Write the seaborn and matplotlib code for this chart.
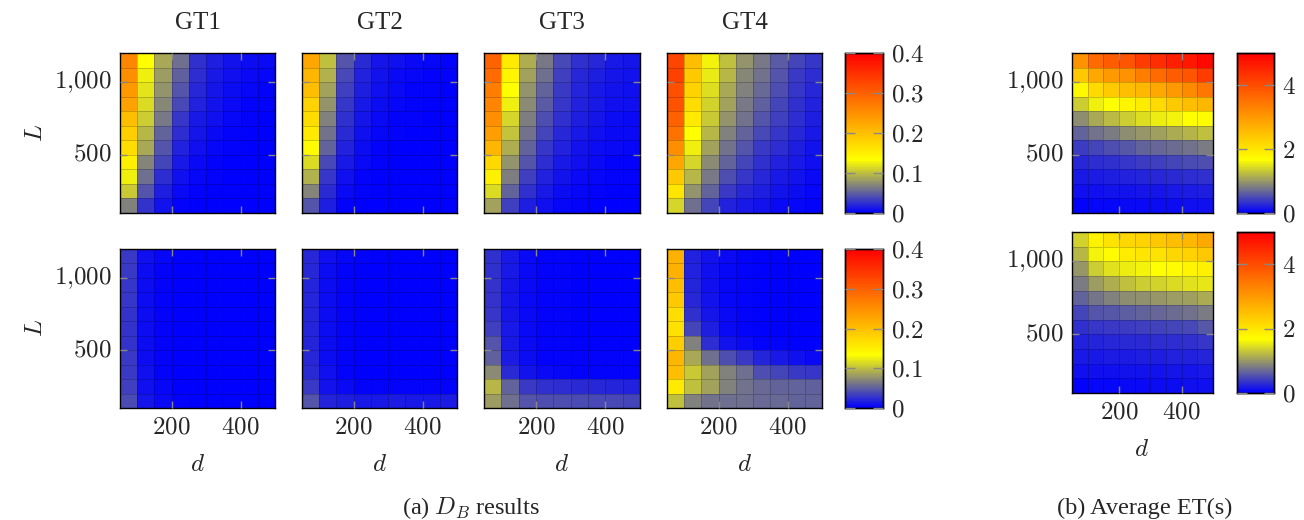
import numpy as np
import pandas as pd
import matplotlib
matplotlib.use('Agg')
import matplotlib.pyplot as plt
import seaborn as sns
from matplotlib.colors import LinearSegmentedColormap

sns.set_style('white')
plt.rcParams['font.family'] = ['Liberation Serif', 'DejaVu Serif']
plt.rcParams['mathtext.fontset'] = 'cm'
plt.rcParams['axes.axisbelow'] = False

# griglia: d (colonne, bordo sinistro della cella), L (righe dall'alto, bordo inferiore)
d_vals = [50, 100, 150, 200, 250, 300, 350, 400, 450]
L_vals = [1100, 1000, 900, 800, 700, 600, 500, 400, 300, 200, 100]
gt_names = ['GT1', 'GT2', 'GT3', 'GT4']

# D_B, riga superiore
db_top_gt1 = [
    [0.260, 0.133, 0.089, 0.058, 0.026, 0.016, 0.010, 0.007, 0.006],
    [0.250, 0.125, 0.082, 0.050, 0.024, 0.014, 0.009, 0.005, 0.004],
    [0.240, 0.120, 0.077, 0.044, 0.021, 0.012, 0.007, 0.004, 0.003],
    [0.230, 0.115, 0.071, 0.039, 0.018, 0.010, 0.006, 0.003, 0.002],
    [0.200, 0.107, 0.063, 0.029, 0.013, 0.008, 0.004, 0.002, 0.001],
    [0.185, 0.096, 0.052, 0.024, 0.011, 0.006, 0.003, 0.001, 0.000],
    [0.170, 0.088, 0.044, 0.018, 0.009, 0.004, 0.002, 0.000, 0.000],
    [0.150, 0.070, 0.037, 0.013, 0.006, 0.003, 0.001, 0.000, 0.000],
    [0.125, 0.058, 0.024, 0.008, 0.004, 0.002, 0.000, 0.000, 0.000],
    [0.105, 0.044, 0.016, 0.005, 0.003, 0.001, 0.000, 0.000, 0.000],
    [0.068, 0.027, 0.010, 0.003, 0.001, 0.000, 0.000, 0.000, 0.000],
]
db_top_gt2 = [
    [0.225, 0.100, 0.044, 0.023, 0.012, 0.008, 0.006, 0.004, 0.003],
    [0.210, 0.093, 0.039, 0.018, 0.010, 0.006, 0.004, 0.003, 0.002],
    [0.200, 0.085, 0.034, 0.016, 0.008, 0.005, 0.003, 0.002, 0.001],
    [0.180, 0.077, 0.029, 0.013, 0.007, 0.004, 0.002, 0.001, 0.001],
    [0.170, 0.068, 0.026, 0.011, 0.005, 0.003, 0.002, 0.001, 0.000],
    [0.155, 0.060, 0.023, 0.009, 0.004, 0.002, 0.001, 0.000, 0.000],
    [0.138, 0.052, 0.018, 0.007, 0.003, 0.001, 0.000, 0.000, 0.000],
    [0.115, 0.039, 0.013, 0.005, 0.002, 0.001, 0.000, 0.000, 0.000],
    [0.093, 0.029, 0.008, 0.003, 0.001, 0.000, 0.000, 0.000, 0.000],
    [0.070, 0.023, 0.005, 0.002, 0.000, 0.000, 0.000, 0.000, 0.000],
    [0.044, 0.016, 0.003, 0.001, 0.000, 0.000, 0.000, 0.000, 0.000],
]
db_top_gt3 = [
    [0.296, 0.155, 0.092, 0.063, 0.039, 0.026, 0.021, 0.013, 0.012],
    [0.288, 0.145, 0.085, 0.058, 0.034, 0.021, 0.016, 0.011, 0.010],
    [0.270, 0.133, 0.078, 0.052, 0.031, 0.019, 0.014, 0.010, 0.009],
    [0.262, 0.125, 0.073, 0.047, 0.029, 0.018, 0.013, 0.009, 0.008],
    [0.250, 0.112, 0.066, 0.042, 0.026, 0.016, 0.011, 0.007, 0.006],
    [0.235, 0.102, 0.060, 0.037, 0.021, 0.013, 0.009, 0.006, 0.005],
    [0.210, 0.092, 0.052, 0.029, 0.018, 0.010, 0.007, 0.005, 0.004],
    [0.175, 0.078, 0.044, 0.024, 0.013, 0.008, 0.005, 0.003, 0.003],
    [0.150, 0.066, 0.034, 0.018, 0.010, 0.006, 0.004, 0.002, 0.002],
    [0.115, 0.052, 0.026, 0.013, 0.007, 0.004, 0.002, 0.001, 0.001],
    [0.085, 0.034, 0.016, 0.008, 0.004, 0.002, 0.001, 0.001, 0.000],
]
db_top_gt4 = [
    [0.327, 0.200, 0.128, 0.100, 0.077, 0.063, 0.047, 0.037, 0.029],
    [0.332, 0.190, 0.122, 0.096, 0.071, 0.060, 0.044, 0.031, 0.024],
    [0.317, 0.180, 0.117, 0.089, 0.068, 0.055, 0.042, 0.029, 0.021],
    [0.313, 0.170, 0.110, 0.085, 0.063, 0.050, 0.037, 0.026, 0.018],
    [0.300, 0.155, 0.105, 0.077, 0.060, 0.044, 0.034, 0.024, 0.016],
    [0.280, 0.133, 0.096, 0.068, 0.052, 0.039, 0.029, 0.021, 0.013],
    [0.250, 0.125, 0.085, 0.060, 0.044, 0.031, 0.024, 0.016, 0.010],
    [0.225, 0.112, 0.073, 0.052, 0.037, 0.026, 0.018, 0.013, 0.008],
    [0.190, 0.096, 0.063, 0.042, 0.029, 0.021, 0.013, 0.010, 0.006],
    [0.160, 0.078, 0.052, 0.031, 0.021, 0.016, 0.010, 0.007, 0.004],
    [0.112, 0.058, 0.037, 0.018, 0.013, 0.010, 0.005, 0.004, 0.002],
]

# D_B, riga inferiore
db_bot_gt1 = [
    [0.030, 0.008, 0.004, 0.001, 0.001, 0.000, 0.000, 0.000, 0.000],
    [0.030, 0.007, 0.003, 0.001, 0.001, 0.000, 0.000, 0.000, 0.000],
    [0.029, 0.007, 0.003, 0.001, 0.000, 0.000, 0.000, 0.000, 0.000],
    [0.029, 0.007, 0.003, 0.001, 0.000, 0.000, 0.000, 0.000, 0.000],
    [0.028, 0.007, 0.003, 0.001, 0.000, 0.000, 0.000, 0.000, 0.000],
    [0.028, 0.007, 0.003, 0.001, 0.000, 0.000, 0.000, 0.000, 0.000],
    [0.028, 0.007, 0.003, 0.001, 0.000, 0.000, 0.000, 0.000, 0.000],
    [0.030, 0.007, 0.003, 0.001, 0.000, 0.000, 0.000, 0.000, 0.000],
    [0.031, 0.008, 0.003, 0.001, 0.000, 0.000, 0.000, 0.000, 0.000],
    [0.033, 0.009, 0.004, 0.001, 0.000, 0.000, 0.000, 0.000, 0.000],
    [0.040, 0.012, 0.005, 0.002, 0.001, 0.001, 0.001, 0.000, 0.000],
]
db_bot_gt2 = [
    [0.021, 0.008, 0.004, 0.002, 0.001, 0.001, 0.000, 0.000, 0.000],
    [0.021, 0.007, 0.003, 0.001, 0.001, 0.000, 0.000, 0.000, 0.000],
    [0.020, 0.007, 0.003, 0.001, 0.001, 0.000, 0.000, 0.000, 0.000],
    [0.020, 0.007, 0.003, 0.001, 0.001, 0.000, 0.000, 0.000, 0.000],
    [0.020, 0.007, 0.003, 0.001, 0.001, 0.000, 0.000, 0.000, 0.000],
    [0.020, 0.007, 0.003, 0.001, 0.001, 0.000, 0.000, 0.000, 0.000],
    [0.020, 0.007, 0.003, 0.001, 0.001, 0.000, 0.000, 0.000, 0.000],
    [0.021, 0.007, 0.003, 0.001, 0.001, 0.000, 0.000, 0.000, 0.000],
    [0.023, 0.008, 0.003, 0.001, 0.001, 0.000, 0.000, 0.000, 0.000],
    [0.030, 0.010, 0.005, 0.002, 0.002, 0.002, 0.002, 0.002, 0.002],
    [0.044, 0.020, 0.016, 0.014, 0.014, 0.015, 0.014, 0.014, 0.015],
]
db_bot_gt3 = [
    [0.026, 0.013, 0.005, 0.002, 0.002, 0.001, 0.001, 0.001, 0.001],
    [0.026, 0.013, 0.005, 0.002, 0.002, 0.001, 0.001, 0.001, 0.001],
    [0.027, 0.012, 0.005, 0.002, 0.002, 0.001, 0.001, 0.001, 0.001],
    [0.028, 0.012, 0.005, 0.002, 0.002, 0.001, 0.001, 0.001, 0.001],
    [0.029, 0.012, 0.005, 0.002, 0.002, 0.001, 0.001, 0.001, 0.001],
    [0.034, 0.013, 0.005, 0.002, 0.002, 0.001, 0.001, 0.001, 0.001],
    [0.044, 0.013, 0.006, 0.002, 0.002, 0.001, 0.001, 0.001, 0.001],
    [0.050, 0.015, 0.007, 0.003, 0.002, 0.002, 0.002, 0.002, 0.002],
    [0.073, 0.023, 0.010, 0.005, 0.004, 0.003, 0.003, 0.003, 0.002],
    [0.096, 0.052, 0.031, 0.026, 0.024, 0.023, 0.021, 0.019, 0.018],
    [0.082, 0.058, 0.044, 0.042, 0.042, 0.040, 0.039, 0.038, 0.037],
]
db_bot_gt4 = [
    [0.215, 0.018, 0.010, 0.005, 0.002, 0.001, 0.001, 0.001, 0.001],
    [0.215, 0.018, 0.009, 0.004, 0.002, 0.001, 0.001, 0.001, 0.000],
    [0.200, 0.019, 0.009, 0.004, 0.002, 0.001, 0.001, 0.000, 0.000],
    [0.190, 0.021, 0.010, 0.004, 0.002, 0.001, 0.000, 0.000, 0.000],
    [0.170, 0.026, 0.012, 0.005, 0.002, 0.001, 0.000, 0.000, 0.000],
    [0.165, 0.037, 0.016, 0.006, 0.003, 0.001, 0.001, 0.000, 0.000],
    [0.185, 0.068, 0.024, 0.010, 0.005, 0.003, 0.002, 0.001, 0.001],
    [0.210, 0.089, 0.058, 0.042, 0.031, 0.020, 0.013, 0.008, 0.005],
    [0.200, 0.105, 0.085, 0.068, 0.058, 0.042, 0.037, 0.031, 0.029],
    [0.155, 0.100, 0.085, 0.068, 0.060, 0.055, 0.052, 0.052, 0.050],
    [0.100, 0.068, 0.060, 0.058, 0.058, 0.055, 0.055, 0.052, 0.052],
]

# tempo medio ET(s)
et_top = [
    [3.10, 3.60, 3.80, 3.90, 4.20, 4.40, 4.60, 4.70, 4.90],
    [2.40, 2.80, 3.00, 3.10, 3.35, 3.60, 3.80, 3.90, 4.20],
    [1.75, 2.15, 2.35, 2.50, 2.60, 2.80, 3.00, 3.20, 3.45],
    [1.33, 1.57, 1.67, 1.80, 1.93, 2.15, 2.35, 2.50, 2.60],
    [0.92, 1.10, 1.23, 1.33, 1.45, 1.55, 1.60, 1.67, 1.72],
    [0.65, 0.75, 0.82, 0.92, 0.98, 1.05, 1.12, 1.18, 1.25],
    [0.40, 0.45, 0.52, 0.58, 0.65, 0.68, 0.72, 0.75, 0.82],
    [0.26, 0.30, 0.33, 0.36, 0.40, 0.42, 0.46, 0.49, 0.52],
    [0.16, 0.18, 0.20, 0.22, 0.24, 0.26, 0.28, 0.30, 0.33],
    [0.10, 0.11, 0.12, 0.13, 0.14, 0.15, 0.16, 0.18, 0.20],
    [0.03, 0.04, 0.05, 0.06, 0.07, 0.08, 0.09, 0.10, 0.11],
]
et_bot = [
    [1.37, 1.85, 2.05, 2.20, 2.25, 2.40, 2.50, 2.60, 2.80],
    [1.20, 1.60, 1.72, 1.93, 2.00, 2.05, 2.20, 2.25, 2.40],
    [0.98, 1.33, 1.48, 1.55, 1.60, 1.67, 1.72, 1.80, 1.85],
    [0.82, 1.02, 1.15, 1.25, 1.33, 1.37, 1.43, 1.48, 1.52],
    [0.65, 0.78, 0.85, 0.92, 0.95, 0.98, 1.02, 1.05, 1.12],
    [0.45, 0.55, 0.58, 0.62, 0.65, 0.68, 0.72, 0.75, 0.82],
    [0.33, 0.36, 0.38, 0.40, 0.42, 0.44, 0.46, 0.48, 0.58],
    [0.23, 0.25, 0.26, 0.28, 0.29, 0.30, 0.31, 0.33, 0.36],
    [0.16, 0.17, 0.18, 0.19, 0.20, 0.21, 0.22, 0.23, 0.25],
    [0.10, 0.10, 0.11, 0.12, 0.13, 0.13, 0.14, 0.15, 0.16],
    [0.03, 0.04, 0.05, 0.06, 0.07, 0.08, 0.09, 0.10, 0.11],
]

db_ticks = [0, 0.1, 0.2, 0.3, 0.4]
et_ticks = [0, 2, 4]

# colormap "hot" di pgfplots
cmap = LinearSegmentedColormap.from_list(
    'pgfhot', [(0, 'blue'), (1/3, 'yellow'), (2/3, (1, 0.5, 0)), (1, 'red')])

W, H = 1304, 520
fig = plt.figure(figsize=(W / 100, H / 100), dpi=100)


def px_axes(x0, y0, x1, y1):
    return fig.add_axes([x0 / W, 1 - y1 / H, (x1 - x0) / W, (y1 - y0) / H])


def tex_num(v):
    s = f'{v:,}' if isinstance(v, int) else f'{v:g}'
    return '$' + s.replace(',', '{,}') + '$'


def draw_map(ax, values, vmax, cax=None, show_y=False, show_x=False):
    df = pd.DataFrame(values, index=L_vals, columns=d_vals)
    sns.heatmap(df, ax=ax, cmap=cmap, vmin=0, vmax=vmax, cbar=cax is not None,
                cbar_ax=cax, linewidths=0.5, linecolor=(0, 0, 0, 0.2))
    step_d = d_vals[1] - d_vals[0]
    xt = [(t - d_vals[0]) / step_d for t in (200, 400)]
    yt = [(L_vals[0] + 100 - t) / 100 for t in (1000, 500)]
    ax.set_axisbelow(False)
    ax.set_xticks(xt)
    ax.set_yticks(yt)
    ax.set_xticklabels([tex_num(200), tex_num(400)] if show_x else [], fontsize=18, rotation=0)
    ax.set_yticklabels([tex_num(1000), tex_num(500)] if show_y else [], fontsize=18, rotation=0)
    ax.set_xlabel('')
    ax.set_ylabel('')
    ax.tick_params(direction='in', length=5, width=1, color='#888888',
                   top=True, right=True, bottom=True, left=True, pad=6)
    for sp in ax.spines.values():
        sp.set_visible(True)
        sp.set_color('black')
        sp.set_linewidth(1)


def style_cbar(cax, ticks):
    cax.set_axisbelow(False)
    cax.set_yticks(ticks)
    cax.set_yticklabels([tex_num(t) for t in ticks], fontsize=18)
    cax.tick_params(direction='in', length=7, width=1, color='#888888',
                    left=True, right=True, pad=6)
    for sp in cax.spines.values():
        sp.set_visible(True)
        sp.set_color('black')
        sp.set_linewidth(1)


cols_x = [(120, 275), (302, 457), (484, 640), (667, 822)]
rows_y = [(53, 213), (249, 408)]
top_maps = [db_top_gt1, db_top_gt2, db_top_gt3, db_top_gt4]
bot_maps = [db_bot_gt1, db_bot_gt2, db_bot_gt3, db_bot_gt4]

for r, maps in enumerate([top_maps, bot_maps]):
    y0, y1 = rows_y[r]
    cax = px_axes(845, y0, 883, y1)
    for c, vals in enumerate(maps):
        x0, x1 = cols_x[c]
        ax = px_axes(x0, y0, x1, y1)
        draw_map(ax, vals, 0.4, cax=cax if c == 3 else None,
                 show_y=(c == 0), show_x=(r == 1))
        if r == 0:
            ax.set_title(gt_names[c], fontsize=18, pad=17)
    style_cbar(cax, db_ticks)

# pannello destro
for r, (vals, (y0, y1)) in enumerate(zip([et_top, et_bot], [(53, 213), (232, 393)])):
    ax = px_axes(1072, y0, 1213, y1)
    cax = px_axes(1237, y0, 1274, y1)
    draw_map(ax, vals, 5, cax=cax, show_y=True, show_x=(r == 1))
    style_cbar(cax, et_ticks)

# etichette assi
for yc in (133, 328):
    fig.text(36 / W, 1 - yc / H, '$L$', fontsize=18, rotation=90, ha='center', va='center')
for c in range(4):
    xc = (cols_x[c][0] + cols_x[c][1]) / 2
    fig.text(xc / W, 1 - 465 / H, '$d$', fontsize=18, ha='center', va='center')
fig.text(1142 / W, 1 - 450 / H, '$d$', fontsize=18, ha='center', va='center')

fig.text(471 / W, 1 - 508 / H, '(a) $D_B$ results', fontsize=17.5, ha='center', va='center')
fig.text(1145 / W, 1 - 508 / H, '(b) Average ET(s)', fontsize=17.5, ha='center', va='center')

fig.savefig('out.png', dpi=100)
